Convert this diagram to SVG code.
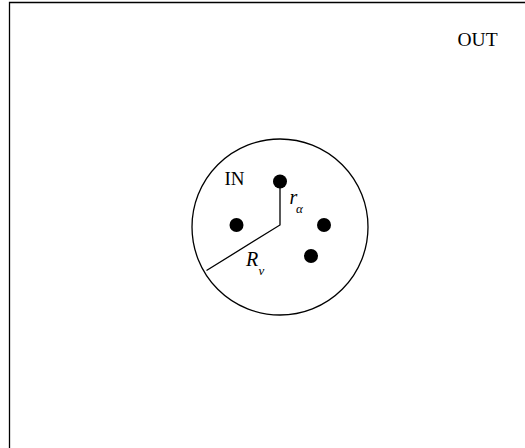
<svg xmlns="http://www.w3.org/2000/svg" width="525" height="448" viewBox="0 0 525 448">
<style>
.t{font-family:"Liberation Serif","Times New Roman",serif;fill:#000}
.i{font-style:italic}
.ln{stroke:#000;stroke-width:1.3;fill:none}
.dot{fill:#000}
</style>
<rect width="525" height="448" fill="#fff"/>
<g id="frame"><path class="ln" d="M9.5,448 V2.5 H525" stroke="#555"/></g>
<g id="region-in">
<circle class="ln" cx="280" cy="227" r="88"/>
<text class="t" x="224.5" y="185" font-size="19">IN</text>
</g>
<g id="region-out"><text class="t" x="457.5" y="46" font-size="19.5">OUT</text></g>
<g id="connectors">
<path class="ln" d="M280,182 V225 L206.5,270.5"/>
</g>
<g id="particles">
<circle id="p1" class="dot" cx="280" cy="181.5" r="7"/>
<circle id="p2" class="dot" cx="236.5" cy="225" r="7"/>
<circle id="p3" class="dot" cx="324" cy="225" r="7"/>
<circle id="p4" class="dot" cx="311" cy="256" r="7"/>
</g>
<g id="labels">
<text class="t i" x="289.5" y="204" font-size="20">r</text>
<text class="t i" x="296" y="213" font-size="13">α</text>
<text class="t i" x="246" y="266" font-size="20">R</text>
<text class="t i" x="258.5" y="274.5" font-size="13">v</text>
</g>
</svg>
